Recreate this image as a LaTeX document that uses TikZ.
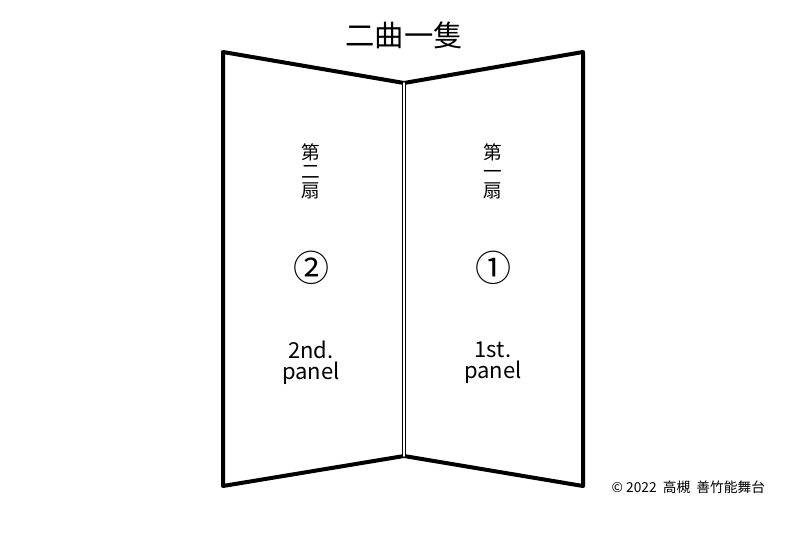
\documentclass[tikz,border=0pt]{standalone}
\usepackage{fontspec}
\setmainfont{Noto Sans CJK JP}
\tikzset{
  frame/.style={line width=3pt, line join=round, line cap=round},
  hinge/.style={double, line width=0.6pt, double distance=1.4pt},
  title/.style={font=\fontsize{22}{22}\selectfont},
  tate/.style={align=center, font=\fontsize{14}{14.2}\selectfont},
  maru/.style={font=\fontsize{27}{27}\selectfont},
  eigo/.style={align=center, inner ysep=0pt, font=\fontsize{16.5}{15.5}\selectfont},
  credit/.style={anchor=west, font=\fontsize{10.3}{10.3}\selectfont}
}

\begin{document}
\begin{tikzpicture}[line cap=round,line join=round,x=0.75pt,y=-0.75pt]
    \useasboundingbox (0,0) rectangle (806,538);
    % screen corners
    \coordinate (TL) at (223,52);
    \coordinate (TM) at (404,83);
    \coordinate (TR) at (583,52);
    \coordinate (BR) at (583,486);
    \coordinate (BM) at (404,456);
    \coordinate (BL) at (223,486);

    \draw[frame] (TL) -- (TM) -- (TR) -- (BR) -- (BM) -- (BL) -- cycle;
    \draw[hinge] (TM) -- (BM);

    \node[title] (name) at (404,35) {二曲一隻};

    % panels
    \node[tate] (p2) at (311,171) {第\\二\\扇};
    \node[tate] (p1) at (493,171) {第\\一\\扇};
    \node[maru] (n2) at (311,268) {②};
    \node[maru] (n1) at (493,268) {①};
    \node[eigo] (e2) at (311,363) {2nd.\\panel};
    \node[eigo] (e1) at (493,363) {1st.\\panel};

    \node[credit] (copy) at (607,487) {© 2022\ \ 高槻\ \ 善竹能舞台};
\end{tikzpicture}
\end{document}
